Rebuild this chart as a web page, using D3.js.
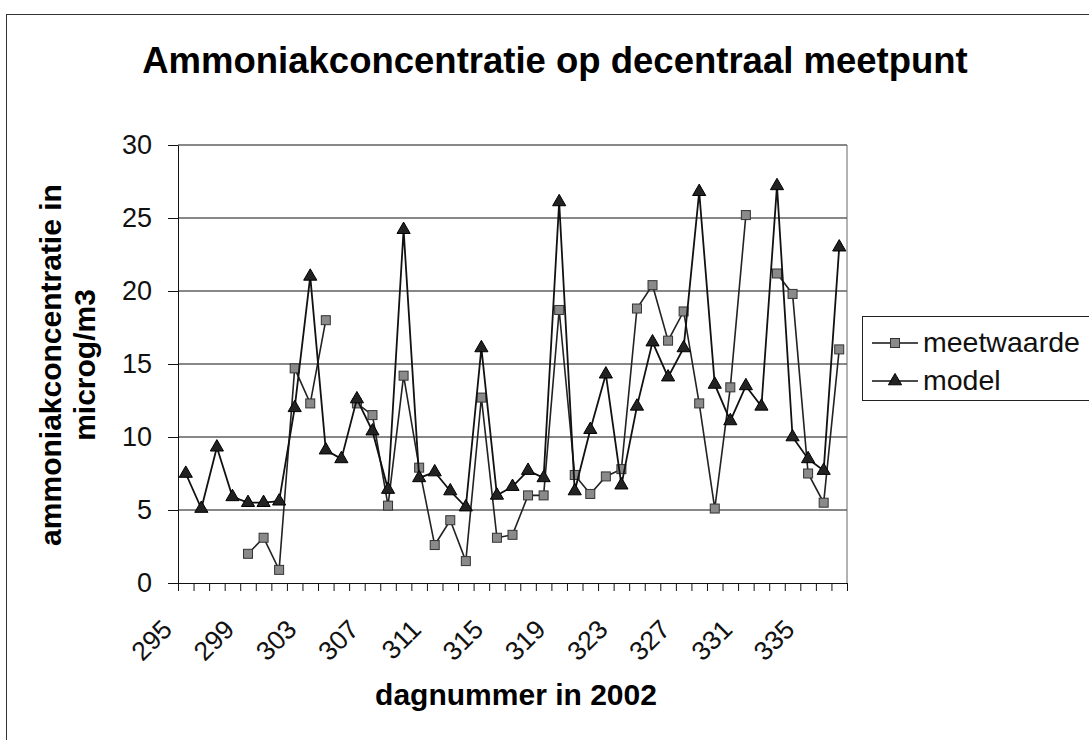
<!DOCTYPE html>
<html>
<head>
<meta charset="utf-8">
<script src="https://cdn.jsdelivr.net/npm/d3@7"></script>
<style>
  html, body { margin: 0; padding: 0; background: #fff; }
  svg { display: block; font-family: "Liberation Sans", Arial, sans-serif; }
</style>
</head>
<body>
<svg id="chart" width="1089" height="740"></svg>
<script>
// Day numbers 295..337 in 2002
const days = [295,296,297,298,299,300,301,302,303,304,305,306,307,308,309,310,311,312,313,314,
              315,316,317,318,319,320,321,322,323,324,325,326,327,328,329,330,331,332,333,334,
              335,336,337];

// Measured ammonia concentration (microg/m3); null = no measurement
const meetwaarde = [null,null,null,null,2.0,3.1,0.9,14.7,12.3,18.0,
                    null,12.3,11.5,5.3,14.2,7.9,2.6,4.3,1.5,12.7,
                    3.1,3.3,6.0,6.0,18.7,7.4,6.1,7.3,7.8,18.8,
                    20.4,16.6,18.6,12.3,5.1,13.4,25.2,null,21.2,19.8,
                    7.5,5.5,16.0];

// Model ammonia concentration (microg/m3)
const model = [7.5,5.1,9.3,5.9,5.5,5.5,5.6,12.0,21.0,9.1,
               8.5,12.6,10.4,6.4,24.2,7.2,7.6,6.3,5.2,16.1,
               6.0,6.6,7.7,7.2,26.1,6.3,10.5,14.3,6.7,12.1,
               16.5,14.1,16.1,26.8,13.6,11.1,13.5,12.1,27.2,10.0,
               8.5,7.7,23.0];

const yTicks = [0,5,10,15,20,25,30];
const xLabelDays = [295,299,303,307,311,315,319,323,327,331,335];

const seriesNames = ["meetwaarde", "model"];

const svg = d3.select("#chart");

// outer chart frame
svg.append("rect")
  .attr("x", 6.5).attr("y", 14.5)
  .attr("width", 1100).attr("height", 740)
  .attr("fill", "none").attr("stroke", "#333").attr("stroke-width", 1);

const plot = { left: 178, right: 847, top: 145, bottom: 583 };

const x = d3.scaleBand().domain(days).range([plot.left, plot.right]).padding(0);
const xc = d => x(d) + x.bandwidth() / 2;
const xEdge = d3.scaleLinear().domain([0, days.length]).range([plot.left, plot.right]);
const y = d3.scaleLinear().domain([0, 30]).range([plot.bottom, plot.top]);

// title
svg.append("text")
  .attr("x", 555).attr("y", 73)
  .attr("text-anchor", "middle")
  .attr("font-size", 36.5).attr("font-weight", "bold")
  .text("Ammoniakconcentratie op decentraal meetpunt");

// horizontal gridlines
svg.append("g")
  .selectAll("line")
  .data(yTicks.filter(v => v > 0))
  .join("line")
  .attr("x1", plot.left).attr("x2", plot.right)
  .attr("y1", d => y(d)).attr("y2", d => y(d))
  .attr("stroke", "#111").attr("stroke-width", 1);

// right border of the plot area
svg.append("line")
  .attr("x1", plot.right).attr("x2", plot.right)
  .attr("y1", plot.top).attr("y2", plot.bottom)
  .attr("stroke", "#666").attr("stroke-width", 1);

// y axis
const yAxis = svg.append("g")
  .attr("transform", `translate(${plot.left},0)`)
  .call(d3.axisLeft(y).tickValues(yTicks).tickSize(10).tickSizeOuter(0).tickPadding(16));
yAxis.select(".domain").attr("stroke", "#111");
yAxis.selectAll(".tick line").attr("stroke", "#111");
yAxis.selectAll(".tick text")
  .attr("font-size", 27).attr("font-family", "Liberation Sans, Arial, sans-serif")
  .attr("fill", "#111");

// x axis: tick marks on category boundaries
const xAxis = svg.append("g")
  .attr("transform", `translate(0,${plot.bottom})`)
  .call(d3.axisBottom(xEdge).tickValues(d3.range(days.length + 1)).tickFormat("").tickSize(8).tickSizeOuter(0));
xAxis.select(".domain").attr("stroke", "#111");
xAxis.selectAll(".tick line").attr("stroke", "#111");

// rotated category labels
svg.append("g")
  .selectAll("text")
  .data(xLabelDays)
  .join("text")
  .attr("transform", d => `translate(${xc(d) - 12},${plot.bottom + 48}) rotate(-45)`)
  .attr("text-anchor", "end")
  .attr("font-size", 26.5)
  .attr("fill", "#111")
  .text(d => d);

// axis titles
svg.append("text")
  .attr("x", 516).attr("y", 705)
  .attr("text-anchor", "middle")
  .attr("font-size", 30).attr("font-weight", "bold")
  .text("dagnummer in 2002");

const yTitle = svg.append("text")
  .attr("transform", "translate(0,365) rotate(-90)")
  .attr("text-anchor", "middle")
  .attr("font-size", 30).attr("font-weight", "bold");
yTitle.append("tspan").attr("x", 0).attr("y", 61).text("ammoniakconcentratie in");
yTitle.append("tspan").attr("x", 0).attr("y", 95).text("microg/m3");

// series lines
const line = d3.line()
  .defined(d => d.v !== null)
  .x(d => xc(d.day))
  .y(d => y(d.v));

const measuredPts = days.map((day, i) => ({ day, v: meetwaarde[i] }));
const modelPts = days.map((day, i) => ({ day, v: model[i] }));

svg.append("path")
  .datum(measuredPts)
  .attr("d", line)
  .attr("fill", "none").attr("stroke", "#222").attr("stroke-width", 1.6);

const sq = 9;
svg.append("g")
  .selectAll("rect")
  .data(measuredPts.filter(d => d.v !== null))
  .join("rect")
  .attr("x", d => xc(d.day) - sq / 2).attr("y", d => y(d.v) - sq / 2)
  .attr("width", sq).attr("height", sq)
  .attr("fill", "#8a8a8a").attr("stroke", "#333").attr("stroke-width", 1);

svg.append("path")
  .datum(modelPts)
  .attr("d", line)
  .attr("fill", "none").attr("stroke", "#111").attr("stroke-width", 1.8);

const tri = d3.symbol().type(d3.symbolTriangle).size(75);
svg.append("g")
  .selectAll("path")
  .data(modelPts)
  .join("path")
  .attr("transform", d => `translate(${xc(d.day)},${y(d.v)})`)
  .attr("d", tri)
  .attr("fill", "#222").attr("stroke", "#000").attr("stroke-width", 1);

// legend
const legend = svg.append("g");
legend.append("rect")
  .attr("x", 862.5).attr("y", 316.5)
  .attr("width", 240).attr("height", 84)
  .attr("fill", "#fff").attr("stroke", "#222").attr("stroke-width", 1);

const legendRows = [
  { name: seriesNames[0], y: 343, marker: "square" },
  { name: seriesNames[1], y: 381, marker: "triangle" }
];
legendRows.forEach(r => {
  legend.append("line")
    .attr("x1", 872).attr("x2", 918)
    .attr("y1", r.y).attr("y2", r.y)
    .attr("stroke", "#111").attr("stroke-width", 1.6);
  if (r.marker === "square") {
    legend.append("rect")
      .attr("x", 895 - sq / 2).attr("y", r.y - sq / 2)
      .attr("width", sq).attr("height", sq)
      .attr("fill", "#8a8a8a").attr("stroke", "#333");
  } else {
    legend.append("path")
      .attr("transform", `translate(895,${r.y})`)
      .attr("d", tri)
      .attr("fill", "#222").attr("stroke", "#000");
  }
  legend.append("text")
    .attr("x", 923).attr("y", r.y + 9)
    .attr("font-size", 28.5)
    .attr("fill", "#111")
    .text(r.name);
});
</script>
</body>
</html>
